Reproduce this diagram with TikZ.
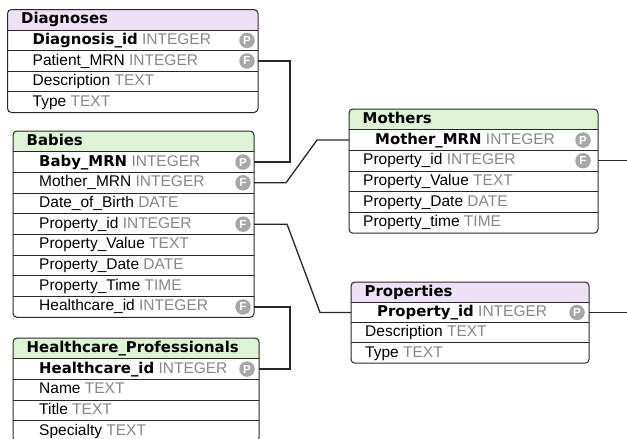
\documentclass[tikz,border=0pt]{standalone}
\usepackage{fontspec}
\setmainfont{Liberation Sans}
\newfontfamily\keyface{DejaVu Sans}
\usetikzlibrary{calc}

\definecolor{hdrpurple}{RGB}{238,225,246}
\definecolor{hdrgreen}{RGB}{221,243,211}
\definecolor{typegray}{RGB}{135,135,135}
\definecolor{badgegray}{RGB}{168,168,168}
\definecolor{edgecol}{RGB}{40,40,40}

\newcommand\keyfont{\keyface\bfseries\fontsize{14.9}{16}\selectfont}
\newcommand\fieldfont{\fontsize{15.5}{17}\selectfont}
\def\nobadge{-}
\def\badgeinset{11}

\tikzset{
  cell/.style={shape=rectangle, anchor=north west, inner sep=0pt, outer sep=0pt},
  titletext/.style={anchor=west, inner sep=0pt, text height=11pt, text depth=3pt,
    font=\keyfont},
  fieldtext/.style={anchor=west, inner sep=0pt, text height=11pt, text depth=3pt,
    font=\fieldfont},
  badge/.style={circle, fill=badgegray, text=white, minimum size=15.5pt, inner sep=0pt,
    font=\bfseries\fontsize{11.5}{11.5}\selectfont},
  sep/.style={draw=edgecol, line width=0.9pt},
  frame/.style={draw=edgecol, line width=1pt, rounded corners=4pt},
  conn/.style={draw=edgecol, line width=1.3pt},
}

% #1 id, #2 left, #3 right, #4 top, #5 row height, #6 header colour,
% #7 title, #8 number of rows, #9 rows as name/type/badge/bold/indent
\newcommand\dbtable[9]{%
  \pgfmathsetmacro\tw{#3-#2}%
  \node[cell, minimum width=\tw pt, minimum height=#5pt] (#1-0) at (#2,#4) {};
  \fill[#6, rounded corners=4pt] (#1-0.north west) rectangle (#1-0.south east);
  \fill[#6] ([yshift=6pt]#1-0.south west) rectangle (#1-0.south east);
  \node[titletext] (#1-0-t) at ([xshift=13.5pt]#1-0.west) {#7};
  \foreach \nm/\ty/\ky/\kb/\ind [count=\i] in {#9} {
    \node[cell, minimum width=\tw pt, minimum height=#5pt] (#1-\i) at (#2,{#4+\i*#5}) {};
    \draw[sep] (#1-\i.north west) -- (#1-\i.north east);
    \node[fieldtext] (#1-\i-t) at ([xshift=\ind pt]#1-\i.west)
      {\ifnum\kb=1 {\keyfont\nm}\else\nm\fi\ {\color{typegray}\ty}};
    \ifx\ky\nobadge\else
      \node[badge] (#1-\i-k) at ([xshift=-\badgeinset pt]#1-\i.east) {\ky};
    \fi
  }
  \draw[frame] (#1-0.north west) rectangle (#1-#8.south east);
}

\begin{document}
\begin{tikzpicture}[x=1pt, y=-1pt]
\useasboundingbox (0,0) rectangle (627,439);
\fill[white] (0,0) rectangle (627,439);

\dbtable{dia}{7.5}{258}{9.5}{20.6}{hdrpurple}{Diagnoses}{4}{%
  Diagnosis\_id/INTEGER/P/1/25,
  Patient\_MRN/INTEGER/F/0/25,
  Description/TEXT/-/0/25,
  Type/TEXT/-/0/25}

\dbtable{bab}{13}{254}{131}{20.7}{hdrgreen}{Babies}{8}{%
  Baby\_MRN/INTEGER/P/1/26,
  Mother\_MRN/INTEGER/F/0/26,
  Date\_of\_Birth/DATE/-/0/26,
  Property\_id/INTEGER/F/0/26,
  Property\_Value/TEXT/-/0/26,
  Property\_Date/DATE/-/0/26,
  Property\_Time/TIME/-/0/26,
  Healthcare\_id/INTEGER/F/0/26}

\def\badgeinset{12}
\dbtable{hcp}{13}{259}{338}{20.7}{hdrgreen}{Healthcare\_Professionals}{4}{%
  Healthcare\_id/INTEGER/P/1/26,
  Name/TEXT/-/0/26,
  Title/TEXT/-/0/26,
  Specialty/TEXT/-/0/26}

\def\badgeinset{15}
\dbtable{mot}{349}{598}{109}{20.7}{hdrgreen}{Mothers}{5}{%
  Mother\_MRN/INTEGER/P/1/26,
  Property\_id/INTEGER/F/0/14,
  Property\_Value/TEXT/-/0/14,
  Property\_Date/DATE/-/0/14,
  Property\_time/TIME/-/0/14}

\def\badgeinset{12}
\dbtable{prp}{351}{589}{282}{20.3}{hdrpurple}{Properties}{3}{%
  Property\_id/INTEGER/P/1/26,
  Description/TEXT/-/0/14,
  Type/TEXT/-/0/14}

% relationships
\draw[conn] (dia-2.east) -- ([xshift=32pt]dia-2.east) |- (bab-1.east);
\draw[conn] (bab-2.east) -- ([xshift=32pt]bab-2.east)
  -- ([xshift=-32pt]mot-1.west) -- (mot-1.west);
\draw[conn] (bab-4.east) -- ([xshift=33pt]bab-4.east)
  -- ([xshift=-31pt]prp-1.west) -- (prp-1.west);
\draw[conn] (bab-8.east) -- ([xshift=36pt]bab-8.east) |- (hcp-1.east);
\coordinate (mot-out) at ([xshift=40pt]mot-2.east);
\coordinate (prp-out) at ([xshift=50pt]prp-1.east);
\draw[conn] (mot-2.east) -- (mot-out);
\draw[conn] (prp-1.east) -- (prp-out);
\end{tikzpicture}
\end{document}
